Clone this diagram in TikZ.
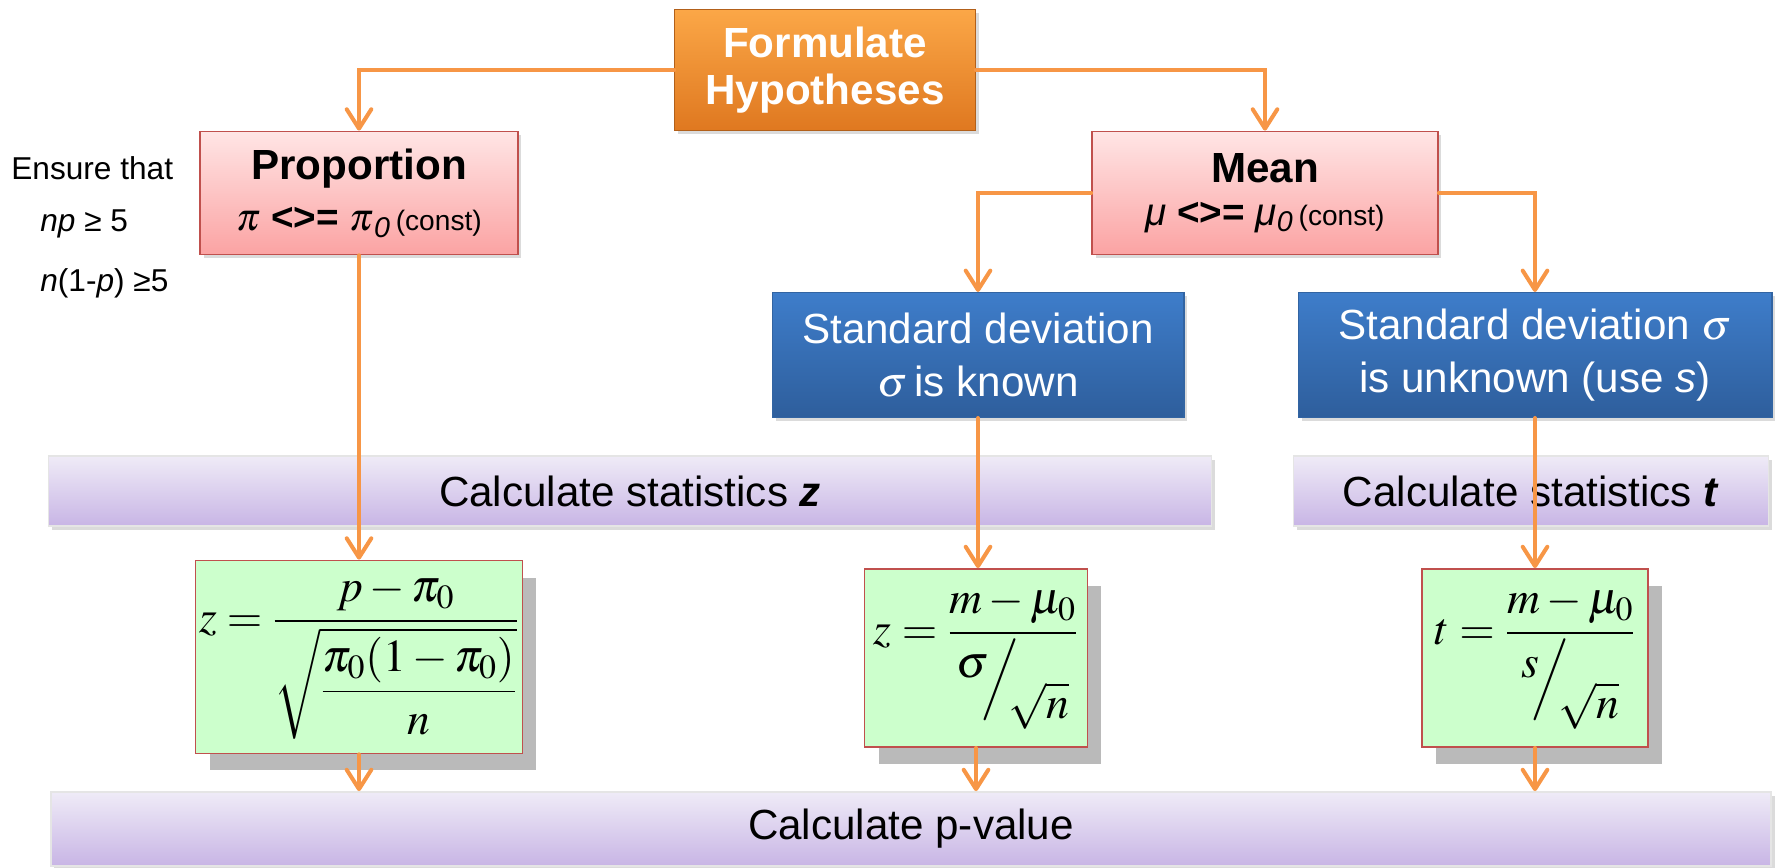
\documentclass[tikz,border=0pt]{standalone}
\usepackage{amsmath}
\usepackage{mathptmx}
\usepackage[no-math]{fontspec}
\setmainfont{Liberation Sans}
\usetikzlibrary{arrows.meta,shadows}
\definecolor{linkorange}{HTML}{F79646}
\definecolor{redline}{HTML}{C0504D}
\definecolor{formgreen}{HTML}{CCFFCC}
\definecolor{hyptop}{HTML}{FBA747}
\definecolor{hypbot}{HTML}{DF7820}
\definecolor{cattop}{HTML}{FFE5E5}
\definecolor{catbot}{HTML}{FBA3A3}
\definecolor{sdtop}{HTML}{3E7DCA}
\definecolor{sdbot}{HTML}{2E5E9C}
\definecolor{bartop}{HTML}{EFEBF7}
\definecolor{barbot}{HTML}{C8B5E5}
\newcommand\bevfrac[2]{\raisebox{0.6ex}{$#1$}\mkern-3mu\Big/\mkern-4mu\raisebox{-1.1ex}{$#2$}}
\begin{document}
\begin{tikzpicture}[x=0.02cm,y=-0.02cm,
        flow/.style={draw=linkorange,line width=2.3pt,line cap=round,
            -{Straight Barb[length=11pt,width=14pt,line cap=round,line join=round]}},
        softshadow/.style={drop shadow={shadow xshift=2pt,shadow yshift=-2pt,fill=black!40,opacity=0.35}},
        hypbox/.style={draw=hypbot!80!black,line width=0.6pt,top color=hyptop,bottom color=hypbot,
            text=white,align=center,softshadow,
            font=\fontsize{24}{27}\selectfont\bfseries,minimum width=6.02cm,minimum height=2.42cm},
        catbox/.style={draw=redline,line width=1pt,top color=cattop,bottom color=catbot,
            align=center,softshadow,minimum height=2.46cm},
        sdbox/.style={draw=sdtop!80!black,line width=0.6pt,top color=sdtop,bottom color=sdbot,
            text=white,align=center,softshadow,
            font=\fontsize{24}{30}\selectfont,minimum height=2.5cm},
        calcbar/.style={draw=white!90!black,line width=1pt,top color=bartop,bottom color=barbot,
            softshadow,font=\fontsize{24}{28}\selectfont,minimum height=1.4cm},
        formbox/.style={draw=redline,line width=1pt,fill=formgreen,
            drop shadow={shadow xshift=0.28cm,shadow yshift=-0.34cm,fill=black!27,opacity=1},
            font=\fontsize{26}{30}\selectfont,inner sep=2pt},
        notetext/.style={anchor=west,font=\fontsize{18}{20}\selectfont,inner sep=0pt}]
    \useasboundingbox (0,0) rectangle (1775,868);
    \node[hypbox] (hyp) at (825,70) {Formulate\\Hypotheses};
    \node[catbox,minimum width=6.36cm] (prop) at (359,193) {{\fontsize{24}{28}\selectfont\bfseries Proportion}\\[10pt]
        {\fontsize{22}{26}\selectfont$\pi$ \textbf{<>=} $\pi$\textsubscript{\textit{0}}} {\fontsize{16}{20}\selectfont(const)}};
    \node[catbox,minimum width=6.92cm] (mean) at (1265,193) {{\fontsize{24}{28}\selectfont\bfseries Mean}\\[10pt]
        {\fontsize{22}{26}\selectfont\textit{μ} \textbf{<>=} \textit{μ}\textsubscript{\textit{0}}} {\fontsize{16}{20}\selectfont(const)}};
    \node[notetext] (ens1) at (11,168) {Ensure that};
    \node[notetext] (ens2) at (40,224) {\textit{np} ≥ 5};
    \node[notetext] (ens3) at (40,283) {\textit{n}(1-\textit{p}) ≥5};
    \node[sdbox,minimum width=8.24cm] (sdk) at (978,355) {Standard deviation\\$\sigma$\,is known};
    \node[sdbox,minimum width=9.48cm] (sdu) at (1535,355) {Standard deviation $\sigma$\\is unknown (use \textit{s})};
    \node[calcbar,minimum width=23.26cm] (calcz) at (630,491) {Calculate statistics \textbf{\textit{z}}};
    \node[calcbar,minimum width=9.5cm] (calct) at (1531,491) {Calculate statistics \textbf{\textit{t}}};
    \node[formbox,minimum width=6.54cm,minimum height=3.86cm] (formp) at (359,657)
        {$z=\dfrac{p-\pi_0}{\sqrt{\dfrac{\pi_0(1-\pi_0)}{n}}}$};
    \node[formbox,minimum width=4.46cm,minimum height=3.56cm] (formz) at (976,658)
        {$z=\dfrac{m-\mu_0}{\bevfrac{\sigma}{\sqrt{n}}}$};
    \node[formbox,minimum width=4.52cm,minimum height=3.56cm] (formt) at (1535,658)
        {$t=\dfrac{m-\mu_0}{\bevfrac{s}{\sqrt{n}}}$};
    \node[calcbar,minimum width=34.42cm,minimum height=1.48cm] (pval) at (911,829) {Calculate p-value};
    \draw[flow] (hyp.west) -| (prop.north);
    \draw[flow] (hyp.east) -| (mean.north);
    \draw[flow] (mean.west) -| (sdk.north);
    \draw[flow] (mean.east) -| (sdu.north);
    \draw[flow] (prop.south) -- (prop.south |- formp.north);
    \draw[flow] (sdk.south) -- (sdk.south |- formz.north);
    \draw[flow] (sdu.south) -- (sdu.south |- formt.north);
    \draw[flow] (formp.south) -- (formp.south |- pval.north);
    \draw[flow] (formz.south) -- (formz.south |- pval.north);
    \draw[flow] (formt.south) -- (formt.south |- pval.north);
\end{tikzpicture}
\end{document}
